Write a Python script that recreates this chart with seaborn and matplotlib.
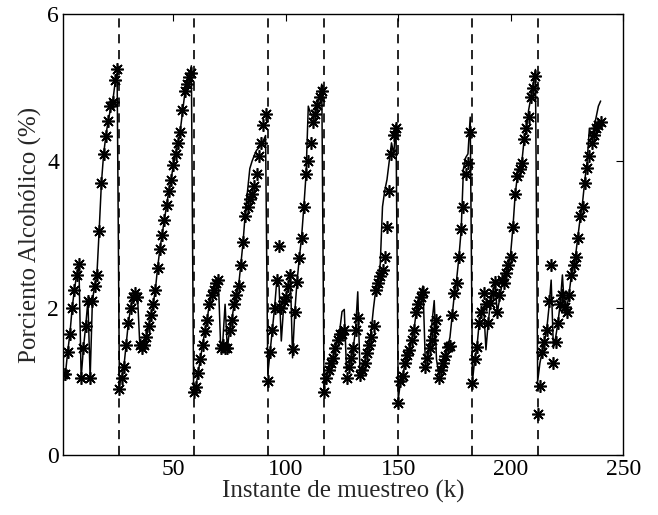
import matplotlib
matplotlib.use("Agg")
import matplotlib.pyplot as plt
import seaborn as sns
import numpy as np
import pandas as pd

# measured alcohol content (asterisks), one list per batch
meas_b1 = [1.10, 1.10, 1.40, 1.65, 2.00, 2.25, 2.45, 2.60, 1.05, 1.45, 1.75, 2.10, 1.05, 2.10, 2.30,
           2.45, 3.05, 3.70, 4.10, 4.35, 4.55, 4.75, 4.80, 5.10, 5.25]
meas_b2 = [0.90, 1.05, 1.20, 1.50, 1.80, 2.00, 2.15, 2.20, 2.15, 1.50, 1.45, 1.50, 1.60, 1.75, 1.90,
           2.05, 2.25, 2.55, 2.80, 3.00, 3.20, 3.40, 3.60, 3.75, 3.95, 4.10, 4.25, 4.40, 4.70, 4.95,
           5.05, 5.15, 5.20]
meas_b3 = [0.86, 0.92, 1.12, 1.30, 1.50, 1.68, 1.84, 2.05, 2.18, 2.25, 2.34, 2.38, 1.46, 1.50, 1.45,
           1.46, 1.70, 1.84, 2.05, 2.18, 2.30, 2.59, 2.90, 3.25, 3.38, 3.48, 3.55, 3.66, 3.82, 4.07,
           4.25, 4.50, 4.64]
meas_b4 = [1.00, 1.40, 1.70, 2.00, 2.38, 2.84, 2.00, 2.10, 2.15, 2.30, 2.45, 1.44, 1.95, 2.36, 2.68,
           2.96, 3.37, 3.82, 4.00, 4.25, 4.54, 4.64, 4.77, 4.87, 4.95]
meas_b5 = [0.86, 1.05, 1.16, 1.25, 1.32, 1.46, 1.57, 1.64, 1.64, 1.70, 1.05, 1.20, 1.32, 1.46, 1.70,
           1.87, 1.09, 1.16, 1.25, 1.39, 1.50, 1.61, 1.75, 2.25, 2.34, 2.43, 2.52, 2.70, 3.10, 3.59,
           4.10, 4.36, 4.45]
meas_b6 = [0.70, 1.00, 1.07, 1.25, 1.36, 1.43, 1.57, 1.70, 1.95, 2.05, 2.15, 2.22, 1.20, 1.32, 1.46,
           1.57, 1.70, 1.84, 1.05, 1.16, 1.25, 1.34, 1.47, 1.48, 1.90, 2.20, 2.34, 2.70, 3.07, 3.38,
           3.82, 3.98, 4.40]
meas_b7 = [0.98, 1.30, 1.47, 1.80, 1.95, 2.20, 2.05, 1.80, 2.07, 2.20, 2.36, 1.95, 2.18, 2.38, 2.34,
           2.48, 2.59, 2.70, 3.10, 3.55, 3.80, 3.89, 3.98, 4.30, 4.45, 4.60, 4.87, 5.00, 5.16]
meas_b8 = [0.55, 0.93, 1.40, 1.54, 1.70, 2.09, 2.59, 1.25, 1.54, 1.80, 2.05, 2.18, 2.02, 1.95, 2.18,
           2.45, 2.59, 2.70, 2.96, 3.25, 3.38, 3.70, 3.91, 4.07, 4.25, 4.36, 4.45, 4.50, 4.54]

# model estimate (solid line)
est_b1 = [1.10, 1.10, 1.40, 1.65, 2.00, 2.25, 2.45, 2.60, 1.05, 1.45, 1.75, 2.10, 1.05, 2.10, 2.30,
          2.45, 3.05, 3.70, 4.10, 4.35, 4.55, 4.70, 4.80, 5.05, 5.20]
est_b2 = [0.95, 1.05, 1.20, 1.50, 1.80, 2.00, 2.15, 2.20, 2.20, 1.55, 1.45, 1.50, 1.60, 1.75, 1.90,
          2.05, 2.25, 2.55, 2.80, 3.00, 3.20, 3.40, 3.60, 3.75, 3.95, 4.10, 4.25, 4.40, 4.65, 4.90,
          5.05, 5.15, 5.30]
est_b3 = [0.86, 0.92, 1.12, 1.30, 1.50, 1.68, 1.84, 2.05, 2.18, 2.25, 2.34, 2.38, 1.50, 1.55, 2.05,
          1.45, 1.70, 1.84, 2.05, 2.18, 2.30, 2.59, 2.90, 3.30, 3.60, 3.90, 4.00, 4.08, 4.15, 4.18,
          4.22, 4.28, 4.35]
est_b4 = [1.10, 1.40, 1.70, 2.00, 2.38, 2.30, 1.55, 2.00, 2.15, 2.30, 2.48, 1.32, 1.95, 2.36, 2.68,
          2.96, 3.37, 3.82, 4.75, 4.65, 4.60, 4.64, 4.77, 4.90, 5.05]
est_b5 = [0.90, 1.05, 1.16, 1.25, 1.32, 1.46, 1.57, 1.70, 1.95, 1.98, 1.15, 1.20, 1.32, 1.46, 1.70,
          2.22, 1.10, 1.16, 1.25, 1.39, 1.50, 1.70, 2.00, 2.25, 2.40, 2.60, 3.38, 3.60, 3.75, 4.00,
          4.25, 4.10, 4.50]
est_b6 = [0.75, 1.00, 1.07, 1.25, 1.36, 1.43, 1.57, 1.70, 1.95, 2.05, 2.20, 2.30, 1.30, 1.32, 1.46,
          1.80, 2.10, 1.30, 1.10, 1.16, 1.25, 1.34, 1.47, 1.60, 1.90, 2.20, 2.40, 2.70, 3.07, 3.90,
          4.05, 4.10, 4.60]
est_b7 = [1.00, 1.30, 1.47, 1.80, 1.95, 2.00, 1.43, 1.80, 2.07, 2.20, 2.36, 1.95, 2.10, 2.30, 2.34,
          2.48, 2.59, 2.75, 3.10, 3.55, 3.80, 3.75, 4.00, 4.30, 4.45, 4.70, 4.87, 5.05, 5.25]
est_b8 = [1.00, 1.25, 1.40, 1.55, 1.70, 2.00, 2.38, 1.45, 1.60, 1.80, 2.05, 2.45, 1.95, 2.00, 2.20,
          2.45, 2.59, 2.75, 3.00, 3.25, 3.45, 3.75, 4.00, 4.45, 4.30, 4.45, 4.60, 4.75, 4.82]

# batch start instants (dashed lines)
batch_starts = [26, 59, 92, 117, 150, 183, 212]

x_ticks = [50, 100, 150, 200, 250]
y_ticks = [0, 2, 4, 6]

meas = meas_b1 + meas_b2 + meas_b3 + meas_b4 + meas_b5 + meas_b6 + meas_b7 + meas_b8
est = est_b1 + est_b2 + est_b3 + est_b4 + est_b5 + est_b6 + est_b7 + est_b8
df = pd.DataFrame({"k": np.arange(1, len(meas) + 1), "meas": meas, "est": est})

sns.set_theme(style="white")
plt.rcParams["font.family"] = ["Liberation Serif", "DejaVu Serif"]

fig = plt.figure(figsize=(6.58, 5.15), dpi=100)
ax = fig.add_axes([0.096, 0.117, 0.851, 0.855])

for xs in batch_starts:
    ax.axvline(xs, color="black", linestyle=(0, (5.5, 4)), linewidth=1.2, zorder=1)

sns.lineplot(data=df, x="k", y="est", ax=ax, color="black", linewidth=1.1,
             estimator=None, sort=False, zorder=2)
ax.plot(df["k"], df["meas"], linestyle="none", marker=(8, 2, 0), markersize=9,
        markeredgewidth=1.2, color="black", zorder=3)

ax.set_xlim(1, 250)
ax.set_ylim(0, 6)
ax.set_xticks(x_ticks)
ax.set_yticks(y_ticks)
ax.tick_params(direction="in", length=5, width=0.8, top=True, right=True,
               labelsize=17, colors="black", pad=3)
for s in ax.spines.values():
    s.set_visible(True)
    s.set_color("black")
    s.set_linewidth(1.0)

ax.set_xlabel("Instante de muestreo (k)", fontsize=18, labelpad=0)
ax.set_ylabel("Porciento Alcohólico (%)", fontsize=18, labelpad=4)
ax.grid(False)

fig.savefig("out.png", dpi=100, facecolor="white")
